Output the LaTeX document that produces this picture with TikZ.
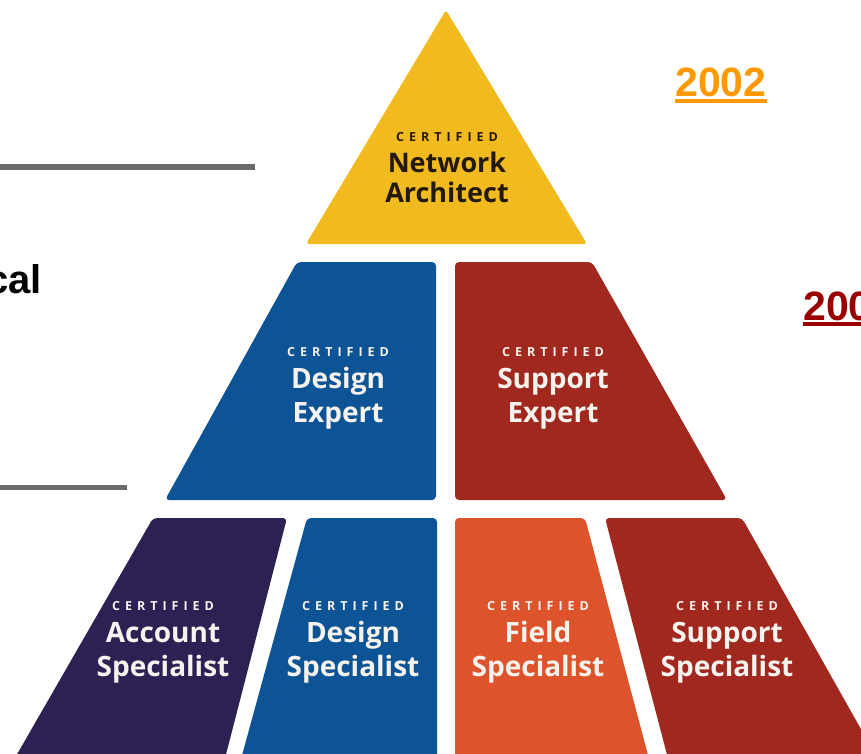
\documentclass[tikz,border=0pt]{standalone}
\usepackage{fontspec}
\setmainfont{Liberation Sans}
\newfontfamily\badgefont{Open Sans}
\newfontfamily\certfont{Open Sans}[LetterSpace=40]
\usepackage{xcolor}
\definecolor{archyellow}{RGB}{241,187,31}
\definecolor{expblue}{RGB}{12,84,150}
\definecolor{suppred}{RGB}{160,40,30}
\definecolor{acctpurple}{RGB}{45,33,84}
\definecolor{fieldorange}{RGB}{221,84,44}
\definecolor{bargray}{RGB}{107,107,107}
\definecolor{yrorange}{RGB}{255,153,0}
\definecolor{yrred}{RGB}{153,0,0}
\definecolor{badgewhite}{RGB}{246,242,238}
\definecolor{badgeblack}{RGB}{35,25,10}

\begin{document}
\begin{tikzpicture}[x=1pt,y=-1pt,
  cert/.style={anchor=base,inner sep=0pt,text=badgewhite,font=\certfont\bfseries\fontsize{12.5}{12.5}\selectfont},
  title/.style={anchor=base,inner sep=0pt,text=badgewhite,font=\badgefont\bfseries\fontsize{28}{28}\selectfont},
  yearlabel/.style={anchor=base west,inner sep=0pt,font=\bfseries\fontsize{41}{41}\selectfont}]
 \useasboundingbox (0,0) rectangle (861,754);
 % side bars and cut-off texts
 \draw[bargray,line width=6pt] (0,167) -- (255,167);
 \draw[bargray,line width=5pt] (0,487) -- (127,487);
 \node[anchor=base east,inner sep=0pt,font=\bfseries\fontsize{40}{40}\selectfont] (cal) at (42,293) {cal};
 \node[yearlabel,text=yrorange] (y2002) at (675,97) {2002};
 \draw[yrorange,line width=4.4pt] ([yshift=-4pt]y2002.base west) -- ([yshift=-4pt]y2002.base east);
 \node[yearlabel,text=yrred] (y200) at (803,320) {200};
 \draw[yrred,line width=4.4pt] ([yshift=-4pt]y200.base west) -- ([yshift=-4pt]y200.base east);
 % pyramid
 \fill[archyellow,rounded corners=3pt] (446,10) -- (587,244) -- (306,244) -- cycle;
 \fill[expblue,rounded corners=4pt] (297,262) -- (436,262) -- (436,500) -- (165,500) -- cycle;
 \fill[suppred,rounded corners=4pt] (455,262) -- (592,262) -- (727,500) -- (455,500) -- cycle;
 \fill[acctpurple,rounded corners=4pt] (153,518) -- (287,518) -- (222,770) -- (8,770) -- cycle;
 \fill[expblue,rounded corners=4pt] (307,518) -- (437,518) -- (437,770) -- (238,770) -- cycle;
 \fill[fieldorange,rounded corners=4pt] (455,518) -- (585,518) -- (652,770) -- (455,770) -- cycle;
 \fill[suppred,rounded corners=4pt] (605,518) -- (742,518) -- (884,770) -- (671,770) -- cycle;
 % badge texts
 \node[cert,text=badgeblack] (na-c) at (447,142) {CERTIFIED};
 \node[title,text=badgeblack,font=\badgefont\bfseries\fontsize{27}{27}\selectfont] (na-a) at (447,173) {Network};
 \node[title,text=badgeblack,font=\badgefont\bfseries\fontsize{27}{27}\selectfont] (na-b) at (447,202) {Architect};
 \foreach \n/\x/\y/\a/\b in {de/338/356/Design/Expert, se/553/356/Support/Expert,
   as/163/610/Account/Specialist, ds/353/610/Design/Specialist,
   fs/538/610/Field/Specialist, ss/727/610/Support/Specialist}
 {
  \node[cert] (\n-c) at (\x,\y) {CERTIFIED};
  \node[title] (\n-a) at (\x,\y+32) {\a};
  \node[title] (\n-b) at (\x,\y+66) {\b};
 }
\end{tikzpicture}
\end{document}
